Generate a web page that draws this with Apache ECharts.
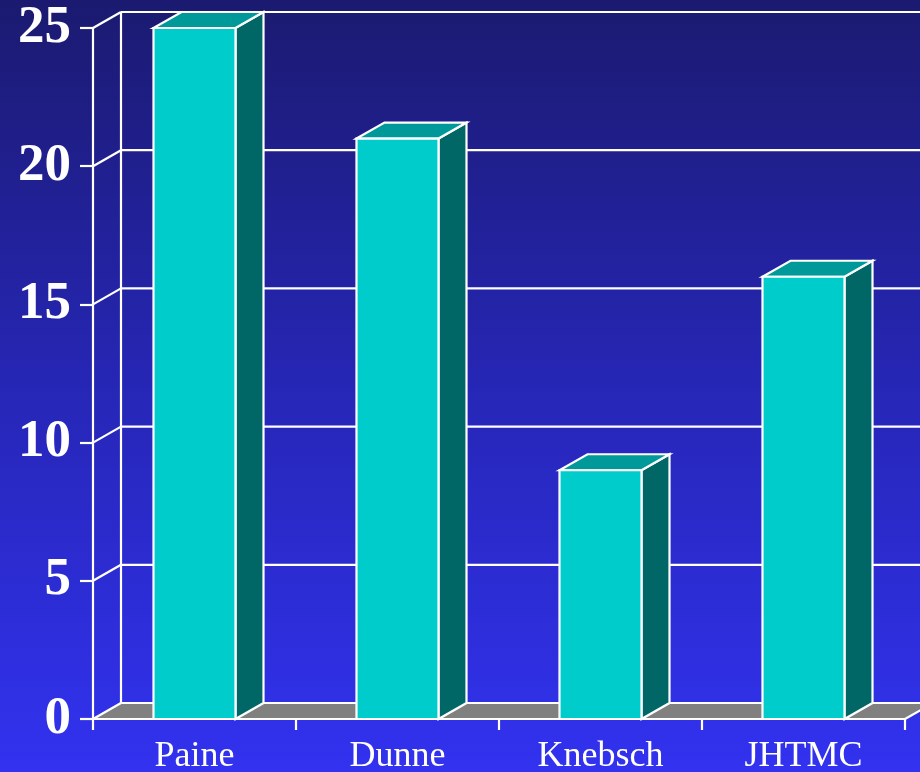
<!DOCTYPE html>
<html>
<head>
<meta charset="utf-8">
<script src="https://cdn.jsdelivr.net/npm/echarts@6/dist/echarts.min.js"></script>
<style>
html,body{margin:0;padding:0;background:#1b1a72;}
#chart{width:920px;height:772px;}
</style>
</head>
<body>
<div id="chart"></div>
<script>
const categories = ['Paine', 'Dunne', 'Knebsch', 'JHTMC'];
const values = [25, 21, 9, 16];
const yTicks = [0, 5, 10, 15, 20, 25];

const DX = 28, DY = -16;
const W = '#ffffff';

const chart = echarts.init(document.getElementById('chart'));

function wallItem(params, api) {
  const cs = params.coordSys;
  const v = api.value(1);
  const y = api.coord([0, v])[1];
  const x0 = cs.x;
  const children = [];
  if (params.dataIndex === 0) {
    children.push({
      type: 'polygon',
      shape: { points: [[x0, y], [x0 + cs.width, y], [x0 + cs.width + DX, y + DY], [x0 + DX, y + DY]] },
      style: { fill: '#808080', stroke: null }
    });
    children.push({
      type: 'line',
      shape: { x1: x0 + DX, y1: y + DY, x2: x0 + DX, y2: cs.y + DY },
      style: { stroke: W, lineWidth: 2.2 }
    });
    children.push({
      type: 'line',
      shape: { x1: x0 + cs.width, y1: y, x2: x0 + cs.width + DX, y2: y + DY },
      style: { stroke: W, lineWidth: 2.2 }
    });
  }
  children.push({
    type: 'line',
    shape: { x1: x0, y1: y, x2: x0 + DX, y2: y + DY },
    style: { stroke: W, lineWidth: 2.2 }
  });
  children.push({
    type: 'line',
    shape: { x1: x0 + DX, y1: y + DY, x2: 940, y2: y + DY },
    style: { stroke: W, lineWidth: 2.2 }
  });
  return { type: 'group', children: children };
}

function barItem(params, api) {
  const idx = api.value(0);
  const v = api.value(1);
  const top = api.coord([idx, v]);
  const base = api.coord([idx, 0]);
  const bw = api.size([1, 0])[0] * 0.404;
  const xl = top[0] - bw / 2, xr = top[0] + bw / 2;
  const yt = top[1], yb = base[1];
  const st = { stroke: W, lineWidth: 2.2, lineJoin: 'miter' };
  return {
    type: 'group',
    children: [
      { type: 'polygon', shape: { points: [[xr, yt], [xr + DX, yt + DY], [xr + DX, yb + DY], [xr, yb]] },
        style: Object.assign({ fill: '#006666' }, st) },
      { type: 'polygon', shape: { points: [[xl, yt], [xl + DX, yt + DY], [xr + DX, yt + DY], [xr, yt]] },
        style: Object.assign({ fill: '#009999' }, st) },
      { type: 'rect', shape: { x: xl, y: yt, width: bw, height: yb - yt },
        style: Object.assign({ fill: '#00cccc' }, st) }
    ]
  };
}

const option = {
  animation: false,
  backgroundColor: {
    type: 'linear', x: 0, y: 0, x2: 0, y2: 1,
    colorStops: [
      { offset: 0, color: '#1b1a70' },
      { offset: 0.5, color: '#2626b6' },
      { offset: 1, color: '#3232f0' }
    ]
  },
  grid: { left: 93, right: 15, top: 28, bottom: 53, containLabel: false, outerBoundsMode: 'none' },
  xAxis: {
    type: 'category',
    data: categories,
    z: 5,
    axisLine: { show: true, lineStyle: { color: W, width: 2.2 } },
    axisTick: { show: true, length: 11, lineStyle: { color: W, width: 2.2 } },
    axisLabel: {
      color: W, fontFamily: 'Liberation Serif', fontSize: 36, margin: 20
    },
    splitLine: { show: false }
  },
  yAxis: {
    type: 'value',
    min: 0, max: 25, interval: 5,
    z: 5,
    axisLine: { show: true, lineStyle: { color: W, width: 2.2 } },
    axisTick: { show: true, length: 13, lineStyle: { color: W, width: 2.2 } },
    axisLabel: {
      color: W, fontFamily: 'Liberation Serif', fontWeight: 'bold', fontSize: 53, margin: 22
    },
    splitLine: { show: false }
  },
  series: [
    {
      type: 'custom',
      z: 1,
      silent: true,
      clip: false,
      renderItem: wallItem,
      data: yTicks.map(v => [0, v])
    },
    {
      type: 'custom',
      z: 3,
      clip: false,
      renderItem: barItem,
      data: values.map((v, i) => [i, v])
    }
  ]
};
chart.setOption(option);
</script>
</body>
</html>
